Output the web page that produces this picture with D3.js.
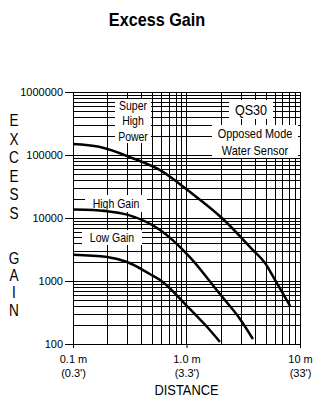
<!DOCTYPE html>
<html><head><meta charset="utf-8">
<script src="https://cdn.jsdelivr.net/npm/d3@7"></script>
<style>
body{margin:0;background:#fff;}
svg text{font-family:"Liberation Sans",Arial,sans-serif;fill:#000;}
</style></head><body>
<svg id="c" width="314" height="408"></svg>
<script>
const title = "Excess Gain";
const yTicks = [100, 1000, 10000, 100000, 1000000];
const xTicks = [0.1, 1, 10];
const xTickLabels = ["0.1 m", "1.0 m", "10 m"];
const xTickLabels2 = ["(0.3')", "(3.3')", "(33')"];
const yAxisLetters = ["E","X","C","E","S","S","","G","A","I","N"];
const xAxisTitle = "DISTANCE";
const superHigh = [[0.1,150000],[0.17,135000],[0.34,88000],[0.58,58000],[1.07,26000],[2.05,10000],[3.85,3100],[4.9,1950],[6.0,1050],[8.2,400]];
const highGain = [[0.1,13600],[0.15,13400],[0.2,12800],[0.3,11300],[0.585,6450],[1.07,2400],[1.97,620],[2.96,250],[3.85,120]];
const lowGain = [[0.1,2600],[0.2,2400],[0.3,2000],[0.476,1290],[0.585,1040],[1.07,360],[1.52,186],[1.97,108]];

const svg = d3.select("#c");
const x = d3.scaleLog().domain([0.1,10]).range([73,300]);
const y = d3.scaleLog().domain([100,1000000]).range([344,92]);

// grid
const g = svg.append("g").attr("shape-rendering","crispEdges");
const xGrid = [], yGrid = [];
for (let dec of [0.1,1]) for (let k=1;k<=10;k++) xGrid.push(dec*k);
for (let dec of [100,1000,10000,100000]) for (let k=1;k<=10;k++) yGrid.push(dec*k);
g.selectAll(".vx").data(xGrid).join("line")
  .attr("x1",d=>Math.round(x(d))+0.5).attr("x2",d=>Math.round(x(d))+0.5)
  .attr("y1",y(1000000)).attr("y2",y(100)).attr("stroke","#000").attr("stroke-width",1);
g.selectAll(".hy").data(yGrid).join("line")
  .attr("y1",d=>Math.round(y(d))+0.5).attr("y2",d=>Math.round(y(d))+0.5)
  .attr("x1",x(0.1)).attr("x2",x(10)).attr("stroke","#000").attr("stroke-width",1);

// axes
const yAxis = d3.axisLeft(y).tickValues(yTicks).tickFormat(d3.format("d")).tickSize(8).tickPadding(2);
const ya = svg.append("g").attr("transform",`translate(${x(0.1)},0)`).call(yAxis);
ya.select(".domain").remove();
ya.selectAll("text").attr("font-size",11).style("font-family","Liberation Sans, Arial, sans-serif");
const xAxis = d3.axisBottom(x).tickValues(xTicks).tickFormat((d,i)=>xTickLabels[i]).tickSize(4).tickPadding(8);
const xa = svg.append("g").attr("transform",`translate(0,${y(100)})`).call(xAxis);
xa.select(".domain").remove();
xa.selectAll("text").attr("font-size",11).attr("y",19).attr("dy",0).style("font-family","Liberation Sans, Arial, sans-serif");
xa.selectAll(".tick").append("text").attr("y",33).attr("fill","#000")
  .attr("font-size",11).attr("text-anchor","middle").text((d,i)=>xTickLabels2[i]);

// label boxes (condensed text)
function box(cx, lines, top, w, h, fs, lh) {
  svg.append("rect").attr("x",cx-w/2).attr("y",top).attr("width",w).attr("height",h).attr("fill","#fff");
  lines.forEach((t,i)=>{
    const ty = top + (h - lh*(lines.length-1))/2 + i*lh;
    svg.append("text").attr("transform",`translate(${cx},${ty}) scale(0.84,1)`)
      .attr("dy","0.35em").attr("text-anchor","middle").attr("font-size",fs).text(t);
  });
}
box(133, ["Super","High","Power"], 99, 36, 44, 12.5, 15.5);
box(116, ["High Gain"], 195, 62, 17, 12.5, 0);
box(112, ["Low Gain"], 230, 60, 15, 12.5, 0);
box(251, ["QS30"], 100, 44, 19, 15, 0);
box(255, ["Opposed Mode","Water Sensor"], 125, 86, 33, 13, 17);

// curves
const line = d3.line().x(d=>x(d[0])).y(d=>y(d[1])).curve(d3.curveMonotoneX);
[superHigh, highGain, lowGain].forEach(s=>{
  svg.append("path").datum(s).attr("d",line).attr("fill","none").attr("stroke","#000").attr("stroke-width",2.5);
});

// title
svg.append("text").attr("transform","translate(157,26) scale(0.9,1)").attr("text-anchor","middle")
  .attr("font-size",18).attr("font-weight","bold").text(title);
// y axis title (stacked letters)
const letterY = [120,139,157,176,194,213,235,258,275,292,310];
yAxisLetters.forEach((t,i)=>{
  if(!t) return;
  svg.append("text").attr("transform",`translate(14,${letterY[i]}) scale(0.85,1)`).attr("dy","0.35em")
    .attr("text-anchor","middle").attr("font-size",16).text(t);
});
svg.append("text").attr("transform",`translate(${x(1)},395) scale(0.92,1)`).attr("text-anchor","middle")
  .attr("font-size",14).text(xAxisTitle);
</script>
</body></html>
